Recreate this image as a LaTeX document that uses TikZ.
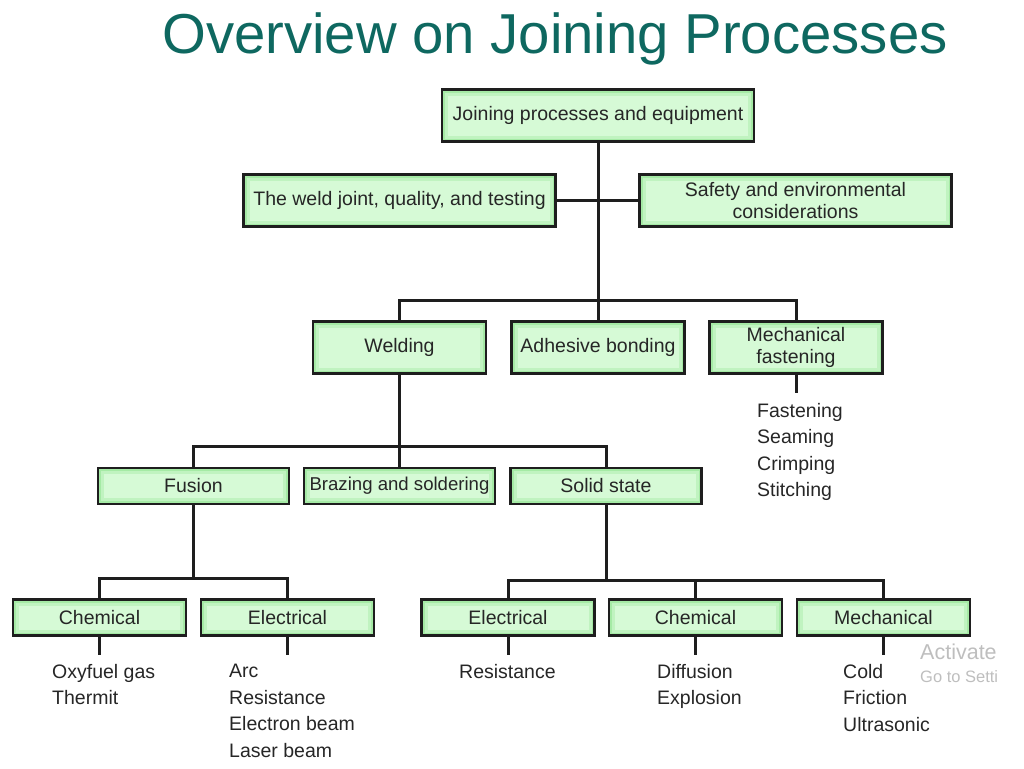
\documentclass[tikz,border=0pt]{standalone}
\usepackage{fontspec}
\setmainfont{Liberation Sans}
\definecolor{titlecol}{RGB}{14,104,96}
\definecolor{boxout}{RGB}{165,234,165}
\definecolor{boxmid}{RGB}{192,243,192}
\definecolor{boxin}{RGB}{214,250,214}
\definecolor{linecol}{RGB}{30,30,30}
\definecolor{wmark}{RGB}{190,190,190}
\tikzset{
  x=1pt, y=-1pt,
  box/.style={draw=linecol, line width=2.6pt, fill=boxout, inner sep=0pt, align=center,
    font=\fontsize{19.5}{22}\selectfont, text=black!85,
    path picture={
      \fill[boxmid] ([shift={(3pt,-3pt)}]path picture bounding box.north west) rectangle ([shift={(-3pt,3pt)}]path picture bounding box.south east);
      \fill[boxin] ([shift={(6pt,-6pt)}]path picture bounding box.north west) rectangle ([shift={(-6pt,6pt)}]path picture bounding box.south east);}},
  bigbox/.style={box, minimum width=312pt, minimum height=52pt},
  midbox/.style={box, minimum width=173pt, minimum height=52pt},
  lowbox/.style={box, minimum width=191pt, minimum height=36pt},
  botbox/.style={box, minimum width=173pt, minimum height=36pt},
  conn/.style={draw=linecol, line width=3pt},
  list/.style={anchor=north west, inner sep=0pt, align=left, text=black!85,
    font=\fontsize{19.5}{26.5}\selectfont},
}
\begin{document}
\begin{tikzpicture}
\useasboundingbox (0,0) rectangle (1024,768);
\node[text=titlecol, font=\fontsize{56.3}{60}\selectfont, anchor=base west, inner sep=0pt] (title) at (162,53) {Overview on Joining Processes};

% boxes
\node[bigbox] (top) at (598,115.5) {Joining processes and equipment};
\node[bigbox] (weldjoint) at (399.5,200.5) {The weld joint, quality, and testing};
\node[bigbox] (safety) at (795.5,200.5) {Safety and environmental\\considerations};

\node[midbox] (welding) at (399.5,347.5) {Welding};
\node[midbox] (adhesive) at (598,347.5) {Adhesive bonding};
\node[midbox] (mechf) at (796,347.5) {Mechanical\\fastening};

\node[lowbox] (fusion) at (193.5,486) {Fusion};
\node[lowbox, font=\fontsize{18.6}{22}\selectfont] (brazing) at (399.5,486) {Brazing and soldering};
\node[lowbox] (solid) at (606,486) {Solid state};

\node[botbox] (chem1) at (99.5,617.5) {Chemical};
\node[botbox] (elec1) at (287.5,617.5) {Electrical};
\node[botbox] (elec2) at (508,617.5) {Electrical};
\node[botbox] (chem2) at (695.5,617.5) {Chemical};
\node[botbox] (mech2) at (883.5,617.5) {Mechanical};

% junction coordinates
\coordinate (b1) at (598,300);
\coordinate (b2) at (399.5,446);
\coordinate (b3) at (193.5,578);
\coordinate (b4) at (606,580);
\coordinate (stubA) at (0,393);
\coordinate (stubB) at (0,655);

% connectors
\draw[conn] (top.south) -- (adhesive.north);
\draw[conn] (weldjoint.east) -- (safety.west);
\draw[conn] (welding.north) |- (b1) -| (mechf.north);
\draw[conn] (welding.south) -- (brazing.north);
\draw[conn] (fusion.north) |- (b2) -| (solid.north);
\draw[conn] (fusion.south) -- (b3);
\draw[conn] (chem1.north) |- (b3) -| (elec1.north);
\draw[conn] (solid.south) -- (b4);
\draw[conn] (elec2.north) |- (b4) -| (mech2.north);
\draw[conn] (chem2.north) -- (chem2.north |- b4);
\draw[conn] (mechf.south) -- (mechf.south |- stubA);
\draw[conn] (chem1.south) -- (chem1.south |- stubB);
\draw[conn] (elec1.south) -- (elec1.south |- stubB);
\draw[conn] (elec2.south) -- (elec2.south |- stubB);
\draw[conn] (chem2.south) -- (chem2.south |- stubB);
\draw[conn] (mech2.south) -- (mech2.south |- stubB);

% lists
\node[list] (lmf) at (757,403) {Fastening\\Seaming\\Crimping\\Stitching};
\node[list] (lch1) at (52,664) {Oxyfuel gas\\Thermit};
\node[list] (lel1) at (229,664) {Arc\\Resistance\\Electron beam\\Laser beam};
\node[list] (lel2) at (459,664) {Resistance};
\node[list] (lch2) at (657,664) {Diffusion\\Explosion};
\node[list] (lme2) at (843,664) {Cold\\Friction\\Ultrasonic};

% watermark
\node[anchor=west, inner sep=0pt, text=wmark, font=\fontsize{21.5}{23}\selectfont] (wm1) at (920,652) {Activate};
\node[anchor=west, inner sep=0pt, text=wmark, font=\fontsize{16.5}{18}\selectfont] (wm2) at (920,677) {Go to Setti};
\end{tikzpicture}
\end{document}
